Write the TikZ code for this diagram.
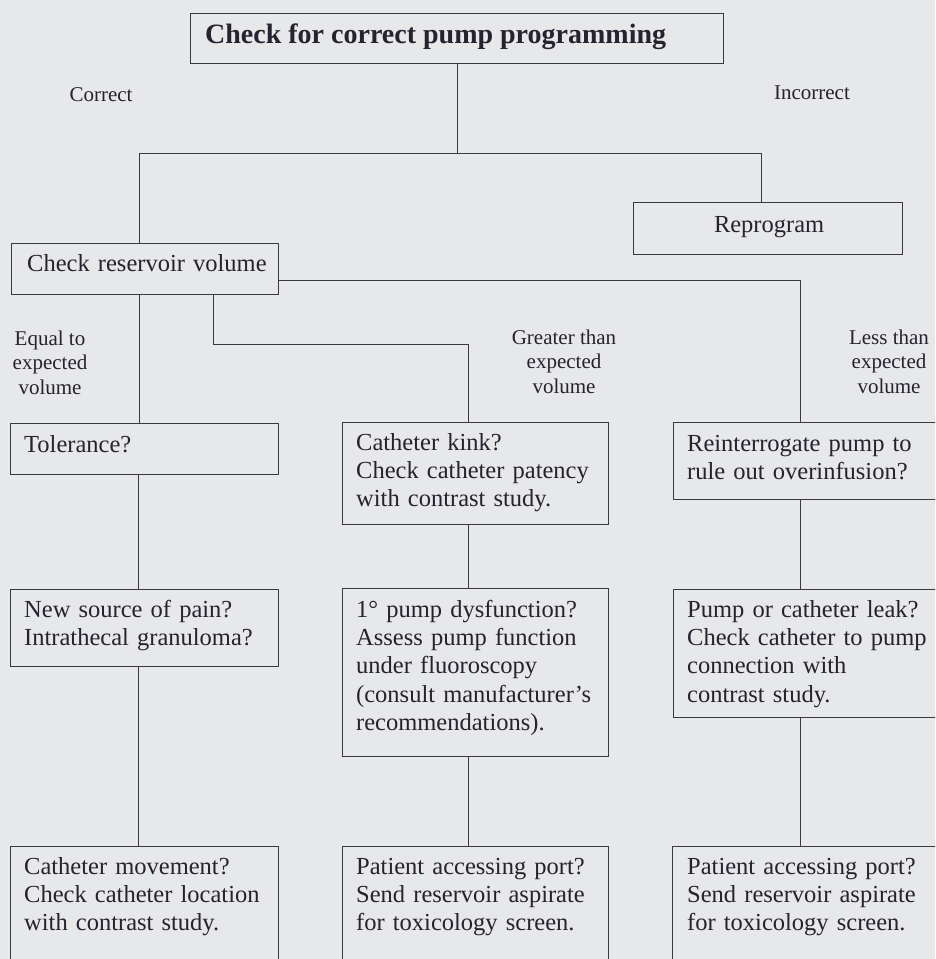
\documentclass[tikz,border=0pt]{standalone}
\usepackage{fontspec}
\setmainfont{Liberation Serif}
\definecolor{bg}{RGB}{231,232,234}
\definecolor{ink}{RGB}{38,34,46}
\definecolor{ln}{RGB}{58,58,62}
\begin{document}
\begin{tikzpicture}[x=1pt,y=-1pt,
  box/.style={draw=ln, line width=1.2pt, inner sep=0pt, anchor=north west, rectangle},
  txt/.style={anchor=base west, inner sep=0pt, text=ink, font=\fontsize{24.5}{28.4}\selectfont, align=left, text width=300pt},
  lbl/.style={anchor=base, inner sep=0pt, text=ink, font=\fontsize{21}{24.5}\selectfont, align=center},
  conn/.style={draw=ln, line width=1pt}]
\useasboundingbox (0,0) rectangle (935,959);
\fill[bg] (0,0) rectangle (935,959);
\clip (0,0) rectangle (935,959);

% boxes
\node[box, minimum width=533pt, minimum height=50pt] (top) at (190,13) {};
\node[box, minimum width=269pt, minimum height=52pt] (reprog) at (633,202) {};
\node[box, minimum width=267pt, minimum height=51pt] (checkres) at (11,243) {};
\node[box, minimum width=268pt, minimum height=51pt] (tol) at (10,423) {};
\node[box, minimum width=266pt, minimum height=102pt] (kink) at (342,422) {};
\node[box, minimum width=280pt, minimum height=77pt] (reint) at (673,422) {};
\node[box, minimum width=268pt, minimum height=77pt] (newsrc) at (10,589) {};
\node[box, minimum width=266pt, minimum height=168pt] (pumpdys) at (342,588) {};
\node[box, minimum width=280pt, minimum height=128pt] (leak) at (673,589) {};
\node[box, minimum width=268pt, minimum height=130pt] (catmove) at (10,846) {};
\node[box, minimum width=266pt, minimum height=130pt] (access1) at (342,846) {};
\node[box, minimum width=280pt, minimum height=130pt] (access2) at (672,846) {};

% texts
\node[anchor=base west, inner sep=0pt, text=ink, font=\fontsize{28}{32}\selectfont\bfseries] (ttop) at ([xshift=15pt,yshift=-30pt]top.north west) {Check for correct pump programming};
\node[anchor=base, inner sep=0pt, text=ink, font=\fontsize{24.5}{28.4}\selectfont] (treprog) at ([xshift=1pt,yshift=-30pt]reprog.north) {Reprogram};
\node[txt] (tcheckres) at ([xshift=16pt,yshift=-28pt]checkres.north west) {Check reservoir volume};
\node[txt] (ttol) at ([xshift=14pt,yshift=-29pt]tol.north west) {Tolerance?};
\node[txt] (tkink) at ([xshift=14pt,yshift=-28pt]kink.north west) {Catheter kink?\\Check catheter patency\\with contrast study.};
\node[txt] (treint) at ([xshift=14pt,yshift=-29pt]reint.north west) {Reinterrogate pump to\\rule out overinfusion?};
\node[txt] (tnewsrc) at ([xshift=14pt,yshift=-28pt]newsrc.north west) {New source of pain?\\Intrathecal granuloma?};
\node[txt] (tpumpdys) at ([xshift=14pt,yshift=-29pt]pumpdys.north west) {1° pump dysfunction?\\Assess pump function\\under fluoroscopy\\(consult manufacturer’s\\recommendations).};
\node[txt] (tleak) at ([xshift=14pt,yshift=-28pt]leak.north west) {Pump or catheter leak?\\Check catheter to pump\\connection with\\contrast study.};
\node[txt] (tcatmove) at ([xshift=14pt,yshift=-28pt]catmove.north west) {Catheter movement?\\Check catheter location\\with contrast study.};
\node[txt] (taccess1) at ([xshift=14pt,yshift=-28pt]access1.north west) {Patient accessing port?\\Send reservoir aspirate\\for toxicology screen.};
\node[txt] (taccess2) at ([xshift=15pt,yshift=-28pt]access2.north west) {Patient accessing port?\\Send reservoir aspirate\\for toxicology screen.};

% labels (base anchor = baseline of last line)
\node[lbl] (lcorrect) at (101,101) {Correct};
\node[lbl] (lincorrect) at (812,99) {Incorrect};
\node[lbl] (lequal) at (50,394) {Equal to\\expected\\volume};
\node[lbl] (lgreater) at (564,393) {Greater than\\expected\\volume};
\node[lbl] (lless) at (889,393) {Less than\\expected\\volume};

% junction coordinates
\coordinate (a1) at (139,153);
\coordinate (a2) at (761,153);
\coordinate (b1) at (139,300);
\coordinate (b2) at (213,344);
\coordinate (c1) at (468,344);
\coordinate (d1) at (800,280);
\coordinate (e1) at (138,500);

% connectors
\draw[conn] (top.south) -- (top.south |- a1);
\draw[conn] (checkres.north -| a1) -- (a1) -- (a2) -- (reprog.north -| a2);
\draw[conn] (checkres.south -| b1) -- (tol.north -| b1);
\draw[conn] (checkres.south -| b2) -- (b2) -- (c1) -- (kink.north -| c1);
\draw[conn] (checkres.east |- d1) -- (d1) -- (reint.north -| d1);
\draw[conn] (tol.south -| e1) -- (newsrc.north -| e1);
\draw[conn] (newsrc.south -| e1) -- (catmove.north -| e1);
\draw[conn] (kink.south -| c1) -- (pumpdys.north -| c1);
\draw[conn] (pumpdys.south -| c1) -- (access1.north -| c1);
\draw[conn] (reint.south -| d1) -- (leak.north -| d1);
\draw[conn] (leak.south -| d1) -- (access2.north -| d1);
\end{tikzpicture}
\end{document}
